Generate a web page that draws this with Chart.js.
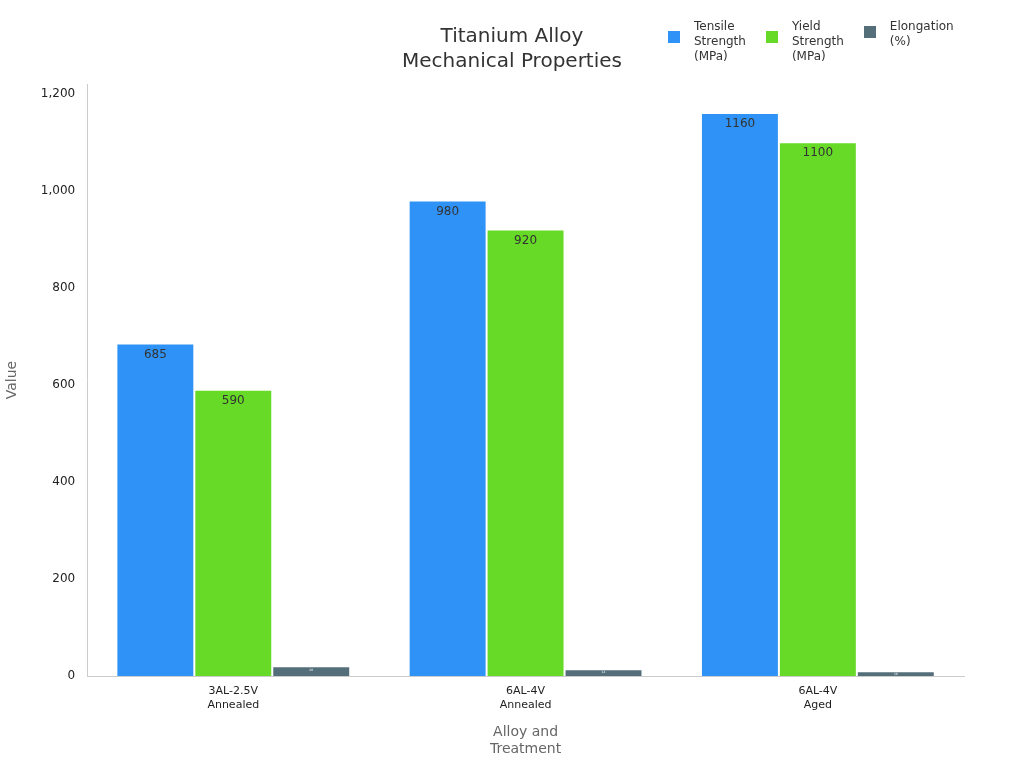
<!DOCTYPE html>
<html><head><meta charset="utf-8">
<script src="https://cdn.jsdelivr.net/npm/chart.js@4/dist/chart.umd.min.js"></script>
<style>
body{margin:0;background:#fff;font-family:"DejaVu Sans",sans-serif}
#wrap{position:relative;width:1024px;height:768px}
#title{position:absolute;top:23px;left:0;width:1024px;text-align:center;font-size:20px;line-height:25px;color:#333}
#legend{position:absolute;top:19px;left:668px;display:flex;font-size:12px;color:#333;line-height:15px}
.item{display:flex;align-items:flex-start;margin-right:20px}
.sw{width:12px;height:12px;margin:12px 14px 0 0}
</style></head><body>
<div id="wrap"><canvas id="c" width="1024" height="768"></canvas>
<div id="title">Titanium Alloy<br>Mechanical Properties</div>
<div id="legend"></div></div>
<script>
const categories=[["3AL-2.5V","Annealed"],["6AL-4V","Annealed"],["6AL-4V","Aged"]];
const tensile=[685,980,1160];
const yieldStr=[590,920,1100];
const elongation=[20,14,10];
const yTicks=[0,200,400,600,800,1000,1200];
const seriesNames=[["Tensile","Strength","(MPa)"],["Yield","Strength","(MPa)"],["Elongation","(%)"]];
const COLORS=["#2f92f6","#66da26","#546e7a"];

document.getElementById("legend").innerHTML=seriesNames.map((n,i)=>
  `<div class="item"><div class="sw" style="background:${COLORS[i]};margin-top:${i==2?7:12}px"></div><div>${n.join("<br>")}</div></div>`).join("");

/* valeurs dans les barres */
const barLabels={
  id:"barLabels",
  afterDatasetsDraw(chart){
    const ctx=chart.ctx;
    ctx.save();
    ctx.textAlign="center";
    ctx.textBaseline="top";
    chart.data.datasets.forEach((ds,i)=>{
      chart.getDatasetMeta(i).data.forEach((bar,j)=>{
        if(i==2){
          ctx.font="3px DejaVu Sans";ctx.fillStyle="#fff";
          ctx.fillText(ds.data[j],bar.x,bar.y+2);
        }else{
          ctx.font="12px DejaVu Sans";ctx.fillStyle="#333";
          ctx.fillText(ds.data[j],bar.x,bar.y+5);
        }
      });
    });
    ctx.restore();
  }
};

new Chart(document.getElementById("c"),{
  type:"bar",
  data:{
    labels:categories,
    datasets:[
      {label:"Tensile Strength (MPa)",data:tensile,backgroundColor:COLORS[0]},
      {label:"Yield Strength (MPa)",data:yieldStr,backgroundColor:COLORS[1]},
      {label:"Elongation (%)",data:elongation,backgroundColor:COLORS[2]}
    ].map(d=>Object.assign(d,{borderColor:"#fff",borderWidth:1,categoryPercentage:0.8,barPercentage:1}))
  },
  options:{
    responsive:false,animation:false,
    layout:{padding:{top:84,right:60,left:0,bottom:6}},
    plugins:{legend:{display:false},title:{display:false}},
    scales:{
      x:{grid:{display:false,tickLength:6},border:{color:"#ccc"},
        ticks:{color:"#222",font:{size:11,family:"DejaVu Sans"}},
        title:{display:true,text:["Alloy and","Treatment"],color:"#666",font:{size:14,family:"DejaVu Sans"},padding:{top:10}}},
      y:{min:0,max:1220,grid:{display:false,tickLength:6},border:{color:"#ccc"},
        afterBuildTicks:s=>{s.ticks=yTicks.map(v=>({value:v}));},
        ticks:{color:"#222",font:{size:12,family:"DejaVu Sans"},padding:6},
        title:{display:true,text:"Value",color:"#666",font:{size:14,family:"DejaVu Sans"},padding:{bottom:14}}}
    }
  },
  plugins:[barLabels]
});
</script></body></html>
